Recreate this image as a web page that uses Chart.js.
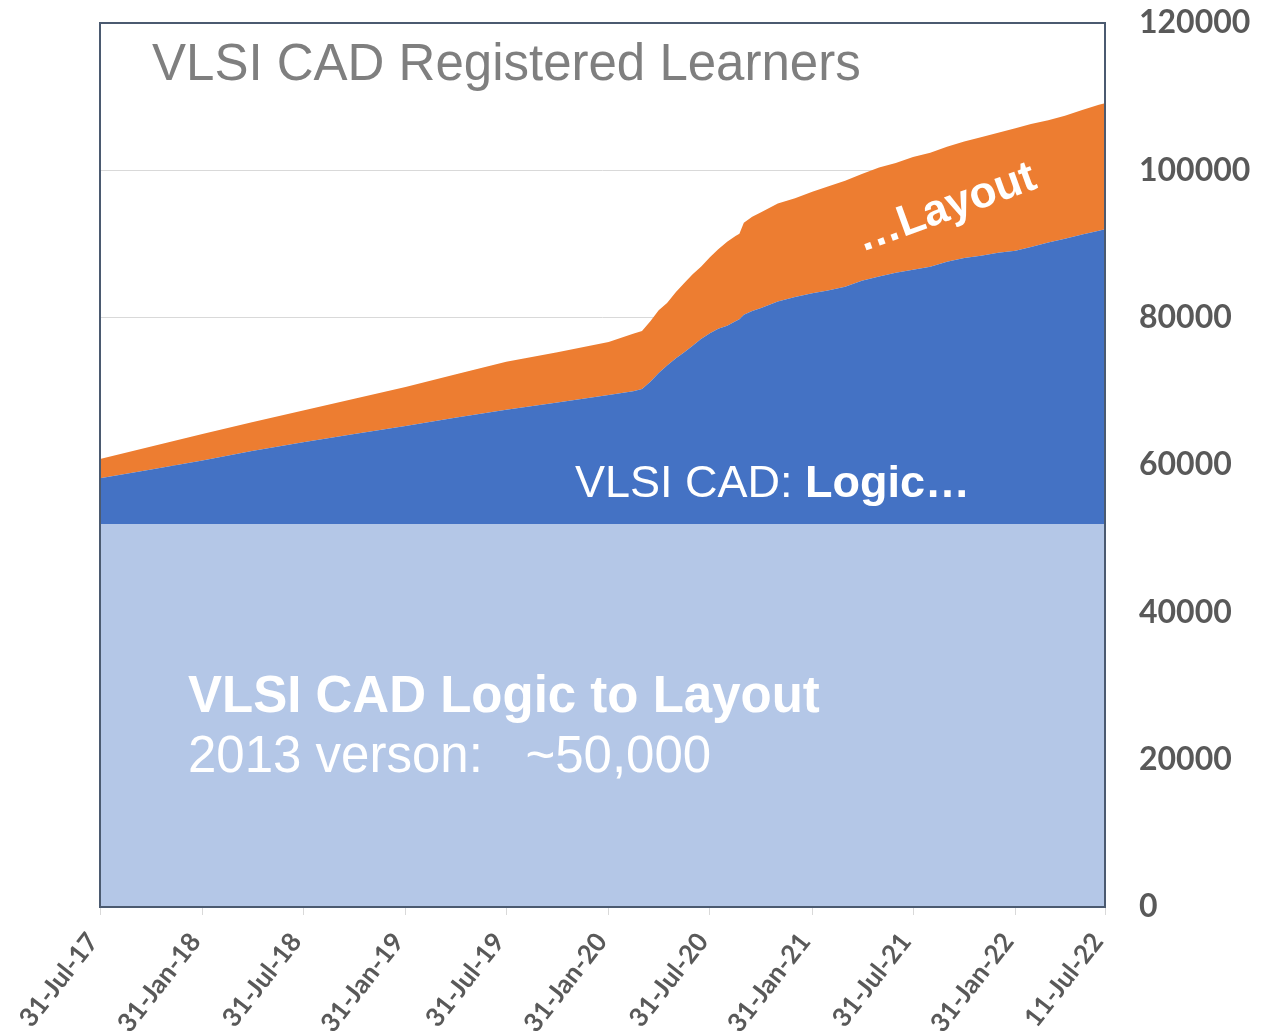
<!DOCTYPE html>
<html>
<head>
<meta charset="utf-8">
<title>VLSI CAD Registered Learners</title>
<script src="https://cdn.jsdelivr.net/npm/chart.js@4.4.1/dist/chart.umd.min.js"></script>
<style>
  html, body { margin: 0; padding: 0; background: #fff; }
  canvas { display: block; }
</style>
</head>
<body>
<canvas id="learnersChart" width="1272" height="1035"></canvas>
<script>
// Registration snapshots (cumulative learners per offering)
const startDate = '2017-07-31';
const endDate = '2022-07-11';

const sampleDates = [
  '2017-07-31', '2017-10-31', '2018-01-31', '2018-04-30', '2018-07-31', '2018-10-31',
  '2019-01-31', '2019-04-30', '2019-07-31', '2019-10-31',
  '2020-01-31', '2020-03-15', '2020-03-31', '2020-04-15', '2020-04-30', '2020-05-15',
  '2020-05-31', '2020-06-15', '2020-06-30', '2020-07-15', '2020-07-31', '2020-08-15',
  '2020-08-31', '2020-09-15', '2020-09-22', '2020-09-30', '2020-10-15', '2020-10-31',
  '2020-11-30', '2020-12-31',
  '2021-01-31', '2021-02-28', '2021-03-31', '2021-04-30', '2021-05-31', '2021-06-30',
  '2021-07-31', '2021-08-31', '2021-09-30', '2021-10-31', '2021-11-30', '2021-12-31',
  '2022-01-31', '2022-02-28', '2022-03-31', '2022-04-30', '2022-05-31', '2022-06-30', '2022-07-11'
];

// 2013 version of the course, closed total
const base2013 = [
  52000, 52000, 52000, 52000, 52000, 52000, 52000, 52000, 52000, 52000,
  52000, 52000, 52000, 52000, 52000, 52000, 52000, 52000, 52000, 52000,
  52000, 52000, 52000, 52000, 52000, 52000, 52000, 52000, 52000, 52000,
  52000, 52000, 52000, 52000, 52000, 52000, 52000, 52000, 52000, 52000,
  52000, 52000, 52000, 52000, 52000, 52000, 52000, 52000, 52000
];

// VLSI CAD: Logic
const logicLearners = [
  6200, 7400, 8600, 9900, 11100, 12200, 13300, 14400, 15500, 16500,
  17500, 18000, 18300, 19300, 20500, 21500, 22500, 23300, 24200, 25100,
  25900, 26500, 26900, 27500, 27800, 28400, 28900, 29300, 30200, 30800,
  31300, 31700, 32200, 33000, 33600, 34100, 34500, 34900, 35600, 36100,
  36400, 36800, 37100, 37600, 38200, 38700, 39300, 39800, 40000
];

// VLSI CAD: Layout
const layoutLearners = [
  2600, 3100, 3600, 3900, 4300, 4800, 5300, 5900, 6500, 6800,
  7200, 7800, 7900, 8200, 8500, 8500, 9000, 9400, 9700, 9800,
  10300, 10800, 11400, 11600, 11600, 12500, 12800, 13000, 13300, 13400,
  13800, 14100, 14400, 14500, 14800, 14900, 15300, 15500, 15600, 15800,
  16100, 16300, 16600, 16700, 16600, 16700, 16900, 17100, 17100
];

const xTickDates = [
  '2017-07-31', '2018-01-31', '2018-07-31', '2019-01-31', '2019-07-31', '2020-01-31',
  '2020-07-31', '2021-01-31', '2021-07-31', '2022-01-31', '2022-07-11'
];
const xTickLabels = [
  '31-Jul-17', '31-Jan-18', '31-Jul-18', '31-Jan-19', '31-Jul-19', '31-Jan-20',
  '31-Jul-20', '31-Jan-21', '31-Jul-21', '31-Jan-22', '11-Jul-22'
];
const yMax = 120000;
const yStep = 20000;

// days since the first snapshot, used as the linear x value
const toDay = d => (Date.parse(d) - Date.parse(startDate)) / 86400000;
const toPoints = values => values.map((v, i) => ({ x: toDay(sampleDates[i]), y: v }));

const frameColor = '#4b5a70';
const axisTextColor = '#595959';

// dark frame round the plot area, like the spreadsheet original
const plotFrame = {
  id: 'plotFrame',
  afterDatasetsDraw(chart) {
    const { ctx, chartArea: a } = chart;
    ctx.save();
    ctx.strokeStyle = frameColor;
    ctx.lineWidth = 2;
    ctx.strokeRect(a.left, a.top, a.right - a.left, a.bottom - a.top);
    ctx.restore();
  }
};

// text boxes sitting on the areas (offsets from the plot's top-left corner)
const textNotes = {
  id: 'textNotes',
  afterDraw(chart) {
    const { ctx, chartArea: a } = chart;
    const face = '"Liberation Sans", Arial, sans-serif';
    ctx.save();
    ctx.textBaseline = 'alphabetic';
    ctx.textAlign = 'left';

    ctx.fillStyle = '#7f7f7f';
    ctx.font = `51px ${face}`;
    ctx.fillText('VLSI CAD Registered Learners', a.left + 52, a.top + 57);

    ctx.fillStyle = '#ffffff';
    ctx.font = `45px ${face}`;
    const lead = 'VLSI CAD: ';
    ctx.fillText(lead, a.left + 475, a.top + 474);
    const leadW = ctx.measureText(lead).width;
    ctx.font = `bold 45px ${face}`;
    ctx.fillText('Logic\u2026', a.left + 475 + leadW, a.top + 474);

    ctx.save();
    ctx.translate(a.left + 762, a.top + 229);
    ctx.rotate(-20 * Math.PI / 180);
    ctx.font = `bold 44px ${face}`;
    ctx.fillText('\u2026Layout', 0, 0);
    ctx.restore();

    ctx.font = `bold 51px ${face}`;
    ctx.fillText('VLSI CAD Logic to Layout', a.left + 88, a.top + 689);
    ctx.font = `51px ${face}`;
    ctx.fillText('2013 verson:   ~50,000', a.left + 88, a.top + 749);
    ctx.restore();
  }
};

const ctx = document.getElementById('learnersChart').getContext('2d');
new Chart(ctx, {
  type: 'line',
  data: {
    datasets: [
      {
        label: 'VLSI CAD Logic to Layout (2013)',
        data: toPoints(base2013),
        backgroundColor: '#b4c7e7',
        borderWidth: 0,
        pointRadius: 0,
        fill: 'origin'
      },
      {
        label: 'VLSI CAD: Logic',
        data: toPoints(logicLearners),
        backgroundColor: '#4472c4',
        borderWidth: 0,
        pointRadius: 0,
        fill: '-1'
      },
      {
        label: 'VLSI CAD: Layout',
        data: toPoints(layoutLearners),
        backgroundColor: '#ed7d31',
        borderWidth: 0,
        pointRadius: 0,
        fill: '-1'
      }
    ]
  },
  options: {
    responsive: false,
    animation: false,
    layout: { padding: { left: 100, top: 23, right: 0, bottom: 0 } },
    plugins: {
      legend: { display: false },
      tooltip: { enabled: false }
    },
    scales: {
      x: {
        type: 'linear',
        min: 0,
        max: toDay(endDate),
        afterBuildTicks: scale => {
          scale.ticks = xTickDates.map(d => ({ value: toDay(d) }));
        },
        afterFit: scale => {
          scale.height = 128;
          scale.paddingLeft = 0;
          scale.paddingRight = 0;
        },
        ticks: {
          autoSkip: false,
          minRotation: 52,
          maxRotation: 52,
          padding: 12,
          labelOffset: -7,
          color: axisTextColor,
          font: { family: 'Lato, "Open Sans", sans-serif', weight: 'bold', size: 26 },
          callback: (value, index) => xTickLabels[index]
        },
        grid: {
          drawOnChartArea: false,
          drawTicks: true,
          tickLength: 8,
          color: '#d9d9d9'
        },
        border: { display: false }
      },
      y: {
        position: 'right',
        stacked: true,
        min: 0,
        max: yMax,
        afterFit: scale => {
          scale.width = 167;
          scale.paddingTop = 0;
          scale.paddingBottom = 0;
        },
        ticks: {
          stepSize: yStep,
          padding: 34,
          color: axisTextColor,
          font: { family: 'Lato, "Open Sans", sans-serif', weight: 'bold', size: 32 },
          callback: v => String(v)
        },
        grid: { color: '#d9d9d9', lineWidth: 1, drawTicks: false },
        border: { display: false }
      }
    }
  },
  plugins: [plotFrame, textNotes]
});
</script>
</body>
</html>
